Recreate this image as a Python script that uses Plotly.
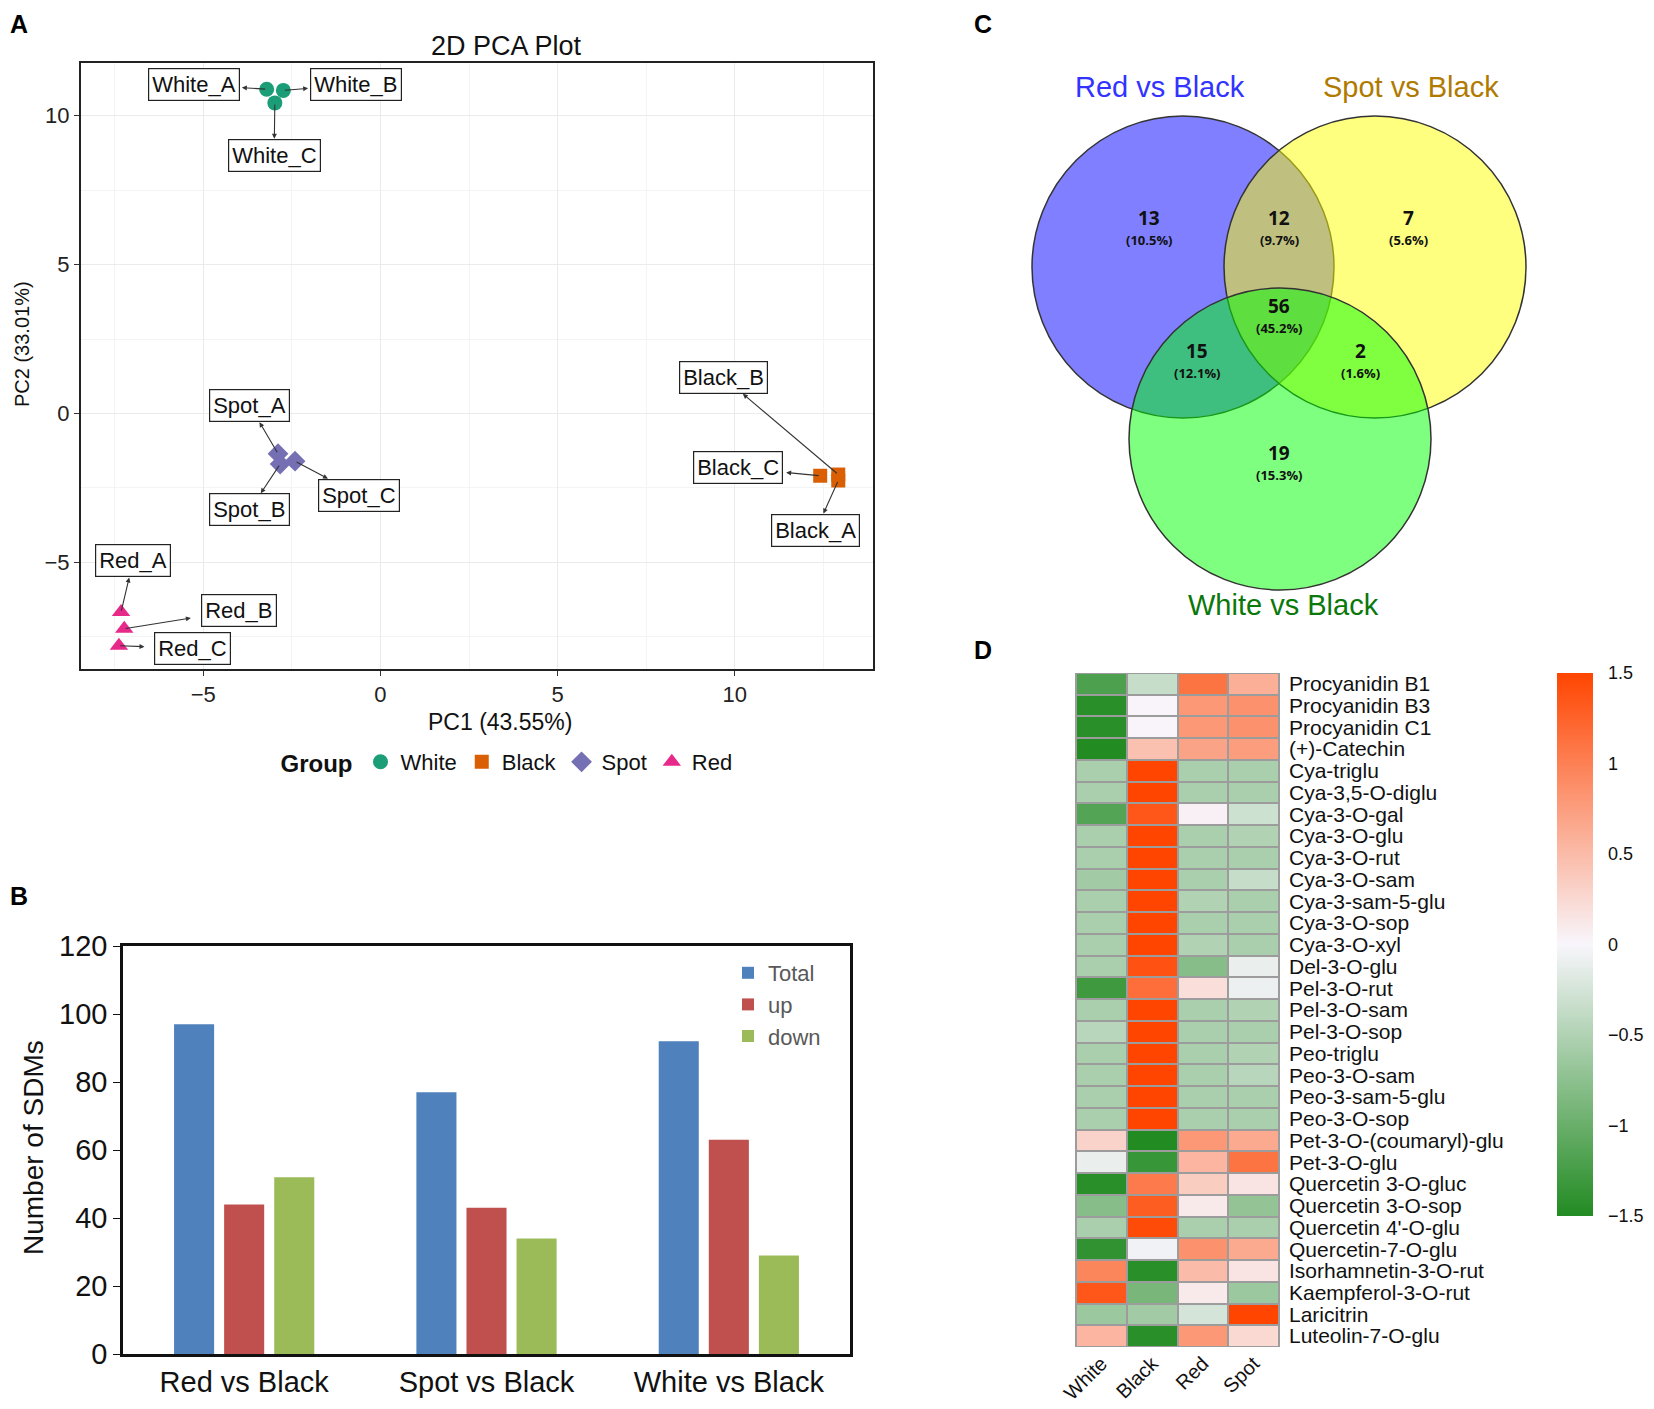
import plotly.graph_objects as go

# reference canvas size and page offset (browser body margin)
W, H = 1654, 1409
OFF = 8
WF, HF = W - OFF, H - OFF
NARROW = "Liberation Sans Narrow, Arial Narrow, Liberation Sans, Arial, sans-serif"
SANS = "Liberation Sans, Arial, Helvetica, sans-serif"

# ---------------- Panel A: PCA data ----------------
pca_groups = ["White", "Black", "Spot", "Red"]
white_pc1 = [-3.21, -2.74, -2.98]
white_pc2 = [10.89, 10.85, 10.43]
black_pc1 = [12.92, 12.92, 12.41]
black_pc2 = [-2.25, -2.05, -2.09]
spot_pc1 = [-2.89, -2.83, -2.41]
spot_pc2 = [-1.35, -1.70, -1.60]
red_pc1 = [-7.32, -7.23, -7.38]
red_pc2 = [-6.67, -7.23, -7.80]
white_names = ["White_A", "White_B", "White_C"]
black_names = ["Black_A", "Black_B", "Black_C"]
spot_names = ["Spot_A", "Spot_B", "Spot_C"]
red_names = ["Red_A", "Red_B", "Red_C"]

# ---------------- Panel B: bar data ----------------
comparisons = ["Red vs Black", "Spot vs Black", "White vs Black"]
total_sdm = [97, 77, 92]
up_sdm = [44, 43, 63]
down_sdm = [52, 34, 29]

# ---------------- Panel C: Venn data ----------------
venn_sets = ["Red vs Black", "Spot vs Black", "White vs Black"]
venn_regions = ["R", "RS", "S", "RSW", "RW", "SW", "W"]
venn_counts = [13, 12, 7, 56, 15, 2, 19]

# ---------------- Panel D: heatmap data ----------------
metabolites = ["Procyanidin B1", "Procyanidin B3", "Procyanidin C1", "(+)-Catechin",
               "Cya-triglu", "Cya-3,5-O-diglu", "Cya-3-O-gal", "Cya-3-O-glu",
               "Cya-3-O-rut", "Cya-3-O-sam", "Cya-3-sam-5-glu", "Cya-3-O-sop",
               "Cya-3-O-xyl", "Del-3-O-glu", "Pel-3-O-rut", "Pel-3-O-sam",
               "Pel-3-O-sop", "Peo-triglu", "Peo-3-O-sam", "Peo-3-sam-5-glu",
               "Peo-3-O-sop", "Pet-3-O-(coumaryl)-glu", "Pet-3-O-glu",
               "Quercetin 3-O-gluc", "Quercetin 3-O-sop", "Quercetin 4'-O-glu",
               "Quercetin-7-O-glu", "Isorhamnetin-3-O-rut", "Kaempferol-3-O-rut",
               "Laricitrin", "Luteolin-7-O-glu"]
heat_samples = ["White", "Black", "Red", "Spot"]
white_z = [-1.20, -1.45, -1.45, -1.50, -0.55, -0.55, -1.15, -0.55, -0.55, -0.60,
           -0.55, -0.55, -0.55, -0.55, -1.30, -0.55, -0.45, -0.55, -0.55, -0.55,
           -0.55, 0.30, -0.10, -1.45, -0.80, -0.55, -1.40, 0.95, 1.35, -0.65, 0.55]
black_z = [-0.35, 0.02, 0.02, 0.45, 1.50, 1.50, 1.35, 1.50, 1.50, 1.50,
           1.50, 1.50, 1.50, 1.40, 1.15, 1.50, 1.50, 1.50, 1.50, 1.50,
           1.50, -1.50, -1.35, 1.05, 1.30, 1.45, -0.05, -1.45, -0.90, -0.60, -1.45]
red_z = [1.10, 0.80, 0.80, 0.70, -0.55, -0.55, 0.05, -0.55, -0.55, -0.55,
         -0.50, -0.55, -0.50, -0.80, 0.20, -0.55, -0.55, -0.55, -0.55, -0.55,
         -0.55, 0.80, 0.55, 0.35, 0.10, -0.55, 0.85, 0.50, 0.10, -0.25, 0.80]
spot_z = [0.60, 0.85, 0.85, 0.75, -0.55, -0.55, -0.30, -0.50, -0.55, -0.35,
          -0.55, -0.55, -0.55, -0.10, -0.08, -0.50, -0.55, -0.50, -0.45, -0.55,
          -0.55, 0.65, 1.10, 0.15, -0.70, -0.55, 0.65, 0.15, -0.65, 1.50, 0.25]


def fx(p):
    return (p - OFF) / WF


def fy(p):
    return 1 - (p - OFF) / HF


def xd(p0, p1):
    return [fx(p0), fx(p1)]


def yd(top, bot):
    return [fy(bot), fy(top)]


fig = go.Figure()

# ---------------- Panel A traces ----------------
grp_style = {
    "White": dict(color="#1B9E77", symbol="circle", size=15),
    "Black": dict(color="#D95F02", symbol="square", size=14),
    "Spot": dict(color="#7570B3", symbol="diamond", size=16),
    "Red": dict(color="#E7298A", symbol="triangle-up", size=16),
}
grp_data = {
    "White": (white_pc1, white_pc2, white_names),
    "Black": (black_pc1, black_pc2, black_names),
    "Spot": (spot_pc1, spot_pc2, spot_names),
    "Red": (red_pc1, red_pc2, red_names),
}
for g in pca_groups:
    xs, ys, nm = grp_data[g]
    fig.add_trace(go.Scatter(x=xs, y=ys, mode="markers", name=g, text=nm,
                             marker=dict(color=grp_style[g]["color"], symbol=grp_style[g]["symbol"],
                                         size=grp_style[g]["size"], line=dict(width=0)),
                             xaxis="x", yaxis="y", legend="legend"))

# label placement (layout, in data units)
label_pos = {
    "White_A": (-5.27, 11.05), "White_B": (-0.68, 11.05), "White_C": (-3.00, 8.67),
    "Spot_A": (-3.69, 0.27), "Spot_B": (-3.69, -3.24), "Spot_C": (-0.60, -2.75),
    "Red_A": (-6.98, -4.95), "Red_B": (-3.99, -6.61), "Red_C": (-5.30, -7.89),
    "Black_B": (9.67, 1.22), "Black_C": (10.09, -1.83), "Black_A": (12.29, -3.92),
}
HW, HH = 1.36, 0.56
annotations = []
for g in pca_groups:
    xs, ys, nm = grp_data[g]
    for px, py, name in zip(xs, ys, nm):
        cx, cy = label_pos[name]
        dx, dy = px - cx, py - cy
        t = min(HW / abs(dx) if dx else 1e9, HH / abs(dy) if dy else 1e9, 1.0)
        ex, ey = cx + dx * t, cy + dy * t
        annotations.append(dict(x=ex, y=ey, ax=px, ay=py, xref="x", yref="y", axref="x", ayref="y",
                                text="", showarrow=True, arrowhead=2, arrowsize=0.9, arrowwidth=1.1,
                                arrowcolor="#333333", standoff=0, startstandoff=0))
        annotations.append(dict(x=cx, y=cy, xref="x", yref="y", text=name, showarrow=False,
                                font=dict(family=NARROW, size=22, color="#111111"),
                                bgcolor="white", bordercolor="#222222", borderwidth=1.2, borderpad=3))

# ---------------- Panel B traces ----------------
bar_colors = ["#4F81BD", "#C0504D", "#9BBB59"]
for nm, vals, c in zip(["Total", "up", "down"], [total_sdm, up_sdm, down_sdm], bar_colors):
    fig.add_trace(go.Bar(x=comparisons, y=vals, name=nm, marker=dict(color=c, line=dict(width=0)),
                         xaxis="x2", yaxis="y2", legend="legend2"))

# ---------------- Panel D heatmap ----------------
zmat = [[w, b, r, s] for w, b, r, s in zip(white_z, black_z, red_z, spot_z)]
fig.add_trace(go.Heatmap(z=zmat, x=heat_samples, y=metabolites, zmin=-1.5, zmax=1.5,
                         colorscale=[[0, "#228B22"], [0.5, "#F8F6FC"], [1, "#FF4500"]],
                         xgap=2, ygap=2, xaxis="x3", yaxis="y3", showscale=True,
                         colorbar=dict(x=fx(1557), xanchor="left", xpad=0, y=fy(673), yanchor="top",
                                       ypad=0, len=543 / HF, lenmode="fraction", thickness=36,
                                       outlinewidth=0, tickvals=[-1.5, -1, -0.5, 0, 0.5, 1, 1.5],
                                       ticktext=["\u22121.5", "\u22121", "\u22120.5", "0", "0.5", "1", "1.5"],
                                       ticks="outside", ticklen=12, tickcolor="rgba(0,0,0,0)",
                                       tickfont=dict(family=SANS, size=18, color="#111"))))

# ---------------- Panel C venn (hidden axes, pixel units) ----------------
fig.add_trace(go.Scatter(x=[1000, 1654], y=[8, 640], mode="markers", marker=dict(opacity=0),
                         xaxis="x4", yaxis="y4", showlegend=False, hoverinfo="skip"))

shapes = []
# heatmap cell border background
shapes.append(dict(type="rect", xref="x3", yref="y3", x0=-0.5, x1=3.5, y0=-0.5, y1=30.5,
                   fillcolor="#9C9C9C", line=dict(color="#9C9C9C", width=2), layer="below"))

R = 151
venn_circles = [(1183, 267, "rgba(0,0,255,0.5)"), (1375, 267, "rgba(255,255,0,0.5)"),
                (1280, 439, "rgba(0,255,0,0.5)")]
for cx, cy, col in venn_circles:
    shapes.append(dict(type="circle", xref="x4", yref="y4", x0=cx - R, x1=cx + R, y0=cy - R, y1=cy + R,
                       fillcolor=col, line=dict(color="#333333", width=1.5)))

venn_label_pos = [(1160, 87, "#3333FF"), (1411, 87, "#B07A00"), (1283, 605, "#0A780A")]
for name, (lx, ly, col) in zip(venn_sets, venn_label_pos):
    annotations.append(dict(x=lx, y=ly, xref="x4", yref="y4", text=name, showarrow=False,
                            font=dict(family=SANS, size=29, color=col)))

venn_region_pos = {"R": (1149, 231), "RS": (1279, 231), "S": (1408, 231), "RSW": (1279, 319),
                   "RW": (1197, 364), "SW": (1360, 364), "W": (1279, 466)}
VFONT = "Open Sans, DejaVu Sans, sans-serif"
vtotal = sum(venn_counts)
for reg, n in zip(venn_regions, venn_counts):
    rx, ry = venn_region_pos[reg]
    annotations.append(dict(x=rx, y=ry + 1, xref="x4", yref="y4", text=f"<b>{n}</b>", showarrow=False,
                            yanchor="bottom", borderpad=0,
                            font=dict(family=VFONT, size=19, color="#111")))
    annotations.append(dict(x=rx, y=ry - 1, xref="x4", yref="y4", text=f"<b>({100 * n / vtotal:.1f}%)</b>",
                            showarrow=False, yanchor="top", borderpad=0,
                            font=dict(family=VFONT, size=13, color="#111")))

# ---------------- titles and panel letters ----------------
def pa(x, y, text, size, family=SANS, angle=0, color="#111", xanchor="center", yanchor="middle"):
    annotations.append(dict(x=fx(x), y=fy(y), xref="paper", yref="paper", text=text, showarrow=False,
                            textangle=angle, xanchor=xanchor, yanchor=yanchor,
                            font=dict(family=family, size=size, color=color)))

pa(507, 46, "2D PCA Plot", 27, NARROW)
pa(500, 722, "PC1 (43.55%)", 23, NARROW)
pa(22, 344, "PC2 (33.01%)", 20, SANS, angle=-90)
pa(33, 1148, "Number of SDMs", 28, SANS, angle=-90)
for letter, lx, ly in [("A", 8, 8), ("B", 8, 880), ("C", 972, 8), ("D", 972, 634)]:
    pa(lx, ly, f"<b>{letter}</b>", 25, SANS, xanchor="left", yanchor="top", color="#000")

tickfontA = dict(family=NARROW, size=22, color="#222")
fig.update_layout(
    width=WF, height=HF, margin=dict(l=0, r=0, t=0, b=0, autoexpand=False),
    paper_bgcolor="white", plot_bgcolor="white",
    barmode="group", bargap=0.38, bargroupgap=0.2,
    showlegend=True,
    xaxis=dict(domain=xd(81, 873), range=[-8.45, 13.9], tickmode="linear", tick0=0, dtick=5,
               ticks="outside", ticklen=5, tickcolor="#333", showgrid=True, gridcolor="#EBEBEB",
               minor=dict(dtick=2.5, tick0=0, showgrid=True, gridcolor="#F4F4F4"),
               zeroline=False, showline=True, mirror=True, linecolor="#222", linewidth=2,
               tickfont=tickfontA, anchor="y", automargin=False),
    yaxis=dict(domain=yd(63, 669), range=[-8.58, 11.77], tickmode="linear", tick0=0, dtick=5,
               ticks="outside", ticklen=5, tickcolor="#333", showgrid=True, gridcolor="#EBEBEB",
               minor=dict(dtick=2.5, tick0=0, showgrid=True, gridcolor="#F4F4F4"),
               zeroline=False, showline=True, mirror=True, linecolor="#222", linewidth=2,
               tickfont=tickfontA, anchor="x", automargin=False),
    xaxis2=dict(domain=xd(123, 850), anchor="y2", showline=True, mirror=True, linecolor="#111",
                linewidth=2.5, ticks="", showgrid=False, zeroline=False, automargin=False,
                tickfont=dict(family=NARROW, size=29, color="#111")),
    yaxis2=dict(domain=yd(946, 1354), anchor="x2", range=[0, 120], dtick=20, ticks="outside",
                ticklen=7, tickcolor="#111", showline=True, mirror=True, linecolor="#111", linewidth=2.5,
                showgrid=False, zeroline=False, automargin=False,
                tickfont=dict(family=NARROW, size=29, color="#111")),
    xaxis3=dict(domain=xd(1075, 1280), anchor="y3", tickangle=-45, ticks="", showgrid=False,
                zeroline=False, showline=False, automargin=False,
                tickfont=dict(family=SANS, size=20, color="#111")),
    yaxis3=dict(domain=yd(673, 1347), anchor="x3", side="right", range=[30.5, -0.5], ticks="",
                tickmode="array", tickvals=metabolites, ticktext=metabolites, ticklabelstandoff=8,
                showgrid=False, zeroline=False, showline=False, automargin=False,
                tickfont=dict(family=SANS, size=21, color="#111")),
    xaxis4=dict(domain=xd(1000, 1654), range=[1000, 1654], visible=False, anchor="y4"),
    yaxis4=dict(domain=yd(8, 640), range=[640, 8], visible=False, anchor="x4"),
    legend=dict(orientation="h", x=fx(508), y=fy(762), xanchor="center", yanchor="middle",
                title=dict(text="<b>Group</b>", side="left", font=dict(family=NARROW, size=24, color="#111")),
                font=dict(family=NARROW, size=22, color="#111"), bgcolor="rgba(0,0,0,0)",
                itemwidth=30, tracegroupgap=0),
    legend2=dict(orientation="v", x=fx(728), y=fy(952), xanchor="left", yanchor="top",
                 font=dict(family=NARROW, size=22, color="#595959"), bgcolor="rgba(0,0,0,0)",
                 itemwidth=30, tracegroupgap=0),
    shapes=shapes,
    annotations=annotations,
)

fig.write_html("out.html")
